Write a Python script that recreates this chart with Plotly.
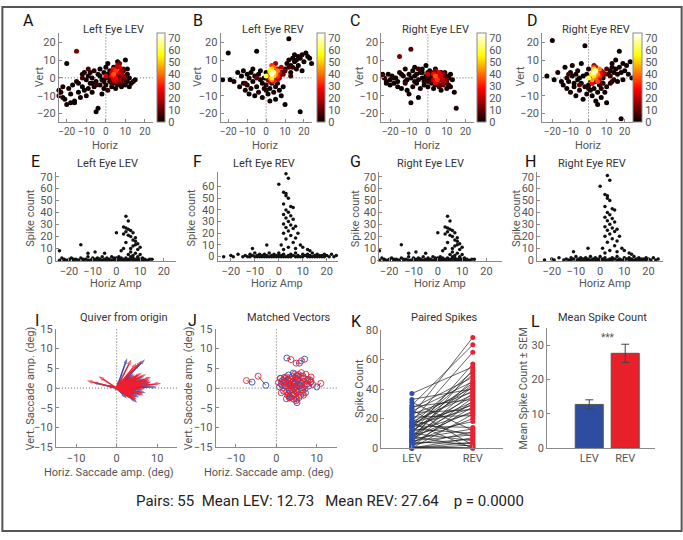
import numpy as np
import plotly.graph_objects as go

W, H = 683, 540
FONT = "Roboto"
AX = "#8a8a8a"
TK = "#555555"
TT = "#333333"

# ---------------- data: LEV trials (both eyes share spike counts) -------------
lev_h = [4,5,3,4,5,6,4,7,3,0, 5,6,8,7,8,4,9,8,7,10, 6,3,9,2,6,8,5,10,7,9,
         -15,-24,-9,-5,-12,
         -23,-22,-21,-20,-20,-19,-18,-17,-16,-15,
         -14,-13,-12,-12,-11,-10,-10,-9,-9,-8,
         -8,-7,-7,-6,-6,-5,-5,-4,-4,-3,
         -3,-2,-2,-1,-1,0,0,0,1,1,
         1,2,2,3,3,4,4,5,5,6,
         6,7,7,8,8,9,10,10,11,11,
         12,12,13,14,-16,-18,-22,-14,-11,-7,
         -3,-1,2,9,11,-24,15]
lev_v_left = [2,4,1,5,0,3,-1,6,3,1, -2,7,2,-1,4,3,1,-2,8,0, 2,-3,5,0,1,3,5,1,-3,4,
              15,-10,5,-4,0,
              -8,-5,-12,-15,8,-6,-9,-4,-13,-2,
              -8,-11,-5,2,-7,-1,-10,1,-6,-3,
              3,-8,0,-5,4,-19,-2,-17,2,-4,
              5,-1,-9,3,-6,0,6,-4,2,-7,
              8,-2,4,-5,0,-3,6,-6,1,-4,
              9,-2,2,-5,0,-3,10,-4,2,-2,
              0,-5,-3,-2,-14,-14,-11,-3,3,-3,
              1,-2,1,-1,5,-7,-1]
lev_v_right = [1,-1,2,-2,0,3,-3,1,-1,2, -2,2,-1,0,-3,4,-2,2,1,-1, -4,3,0,-2,1,-4,2,-3,-1,3,
               12,1,16,5,-3,
               0,-2,2,-1,-4,1,-3,0,-5,3,
               -6,1,-2,5,-7,2,-9,0,-14,4,
               -5,1,6,-3,2,-11,-1,3,-6,5,
               0,-2,-4,1,7,-2,3,-5,0,4,
               -1,-3,2,-6,1,-4,5,-2,2,-5,
               0,-7,3,-1,-3,1,-2,-6,0,-4,
               2,-5,-1,-8,-2,0,-3,2,-1,-2,
               3,0,-1,-2,1,2,-17]
lev_spk = [37,33,28,27,26,25,24,23,22,23, 21,20,19,17,16,15,14,13,12,11, 10,10,9,8,7,6,5,5,4,3,
           13,8,7,6,6,
           2,1,0,1,0,2,0,1,0,2,
           0,1,0,3,0,1,2,0,1,0,
           2,0,1,0,3,0,1,0,2,1,
           0,3,0,1,0,2,0,1,0,3,
           1,0,2,0,1,2,0,1,0,3,
           1,0,2,0,1,2,0,1,0,2,
           1,0,0,1,0,1,0,1,0,1,
           0,2,1,0,1,0,1]

# ---------------- data: REV trials -------------
rev_h = [3,4,0,2,3,3,4,2,5,6, 3,4,2,5,3,6,4,2,5,7, 3,6,4,8,2,5,7,3,6,9, 1,4,2,-5,-11,7,10,12,13,
         -20,-19,-17,-15,-14,-13,-12,-12,-11,-10,
         -10,-9,-9,-8,-8,-7,-7,-6,-6,-5,
         -5,-4,-4,-3,-3,-2,-2,-1,-1,0,
         0,1,1,2,2,3,4,4,5,5,
         6,7,7,8,8,9,10,10,11,12,
         12,13,13,14,14,15,15,16,16,17,
         17,18,18,19,19,20,21,22,23,24,
         -23,0]
rev_v_left = [2,3,1,4,0,5,1,3,2,4, -1,6,0,3,7,1,-2,2,5,3, 4,-1,2,6,-2,8,0,3,5,2, -1,4,1,0,-3,2,4,6,1,
              14,-1,-2,3,-5,1,-3,4,-7,2,
              -4,-9,0,3,-6,-2,5,-10,1,15,
              -5,2,-8,-1,4,-3,-11,0,-6,3,
              -4,-9,2,-6,-13,-3,-8,0,-5,-12,
              -3,-7,1,-10,3,-5,5,-15,8,22,
              10,7,3,11,6,9,13,5,10,12,
              7,-19,11,13,4,9,14,12,11,8,
              -1,-7]
rev_v_right = [3,4,0,2,5,1,3,-1,2,5, 4,0,2,-2,6,1,3,-3,4,2, 5,-1,6,3,1,-2,4,7,0,2, -1,3,1,-4,2,-3,5,1,-2,
               21,-1,3,-2,-4,6,0,-6,-2,3,
               -8,1,7,-3,-5,2,-10,-1,4,0,
               -7,8,-3,1,-12,18,-5,2,-9,-4,
               5,-7,-1,-10,-3,-6,-13,-2,-8,-15,
               -4,-11,-6,-3,0,-8,-5,-14,2,4,
               -3,6,8,3,-1,5,10,2,-2,6,
               15,-23,3,8,-1,4,7,2,9,0,
               1,-6]
rev_spk = [71,67,62,55,54,52,50,45,43,42, 40,38,36,35,33,32,30,28,27,26, 25,24,22,20,20,18,16,15,12,10, 10,8,6,10,7,7,8,6,5,
           1,0,2,0,1,0,2,0,1,0,
           3,0,1,0,2,0,1,0,2,0,
           1,0,3,0,1,0,2,0,1,0,
           3,0,1,0,2,0,1,0,2,0,
           1,0,3,0,1,0,2,0,1,0,
           2,0,1,0,3,1,0,2,0,1,
           0,1,0,2,0,1,0,2,0,1,
           0,1]

# ---------------- matched saccade vectors (55 pairs) -------------
vec_lev_h = [-6.0,-2.6,2.6,5.7,7.0,10.0,8.6,5.1,1.0,2.0, 3.0,4.2,5.5,6.8,7.5,6.5,5.0,4.0,3.0,2.5,
             1.2,2.3,3.3,4.4,5.3,6.2,3.8,4.9,2.8,3.6, 4.7,6.0,5.6,1.8,0.8,8.0,7.2,4.5,3.5,2.2,
             5.8,4.0,6.6,3.2,4.8,5.4,3.9,2.9,4.3,6.4, 7.8,1.5,5.2,4.6,3.4]
vec_lev_v = [1.5,0.7,7.6,6.3,7.3,0.3,1.6,-3.7,2.5,2.7, 3.3,3.8,3.4,2.4,1.0,-0.5,-1.0,-2.0,-1.5,-2.7,
             1.0,0.5,1.2,0.8,1.9,1.2,-0.3,0.2,1.9,2.3, 2.6,-1.8,-2.4,-0.8,0.3,0.5,-1.2,-1.5,0.6,1.6,
             0.6,1.5,3.0,-0.8,-0.6,0.9,2.9,0.1,-2.8,0.1, 2.2,1.9,2.3,1.1,-2.2]
vec_rev_h = [-7.4,-4.5,3.6,4.9,6.2,11.0,8.3,4.9,0.5,2.8, 2.5,5.0,6.2,7.6,8.4,7.1,4.4,3.2,2.6,3.3,
             1.8,1.8,4.0,5.0,4.6,6.9,4.3,5.6,2.2,4.2, 5.3,6.6,5.0,1.2,1.4,9.0,6.7,5.2,3.0,2.8,
             6.3,3.4,7.3,3.8,4.2,6.0,4.5,3.3,4.9,7.0, 8.6,1.0,5.9,4.0,2.8]
vec_rev_v = [1.9,3.0,7.2,6.3,6.9,1.2,2.1,-3.2,1.4,2.2, 2.8,3.2,3.9,2.0,1.5,-0.2,-1.6,-2.4,-0.9,-2.5,
             1.5,0.1,1.6,0.3,2.4,1.7,0.3,-0.3,2.4,1.8, 3.1,-1.3,-2.8,-1.2,0.8,0.9,-1.8,-1.1,1.1,2.1,
             1.2,1.0,3.5,-1.3,-0.1,1.4,3.5,0.6,-2.3,0.6, 2.8,2.4,2.7,0.5,-1.8]

# ---------------- paired spike counts (55 pairs) -------------
pair_lev = [37,33,31,29,28,27,26,25,24,23, 22,21,20,19,18,17,16,15,15,14,
            18,17,16,15,14,13,12,11,11,10, 10,9,9,8,8,7,7,6,6,5,
            5,5,4,4,3,3,2,1,1,0, 0,0,0,0,0]
pair_rev = [55,40,12,70,33,48,2,45,26,38, 75,22,41,8,36,29,52,14,44,31,
            65,0,39,27,50,10,35,24,43,5, 57,30,18,46,1,37,25,53,13,42,
            9,34,20,3,28,6,11,32,0,23, 4,2,0,7,0]
cond_labels = ["LEV", "REV"]
sem_vals = [1.35, 2.65]
p_text = "0.0000"

# ---------------- helpers -------------
def xd(a, b):
    return [a / W, b / W]

def yd(top, bot):
    return [1 - bot / H, 1 - top / H]

def ann(px, py, s, size=11, color=TT, angle=0, xa="center", ya="middle"):
    return dict(x=px / W, y=1 - py / H, xref="paper", yref="paper", text=s, showarrow=False,
                font=dict(family=FONT, size=size, color=color), textangle=angle,
                xanchor=xa, yanchor=ya)

def axstyle(dom, rng, tickvals, anchor, ticktext=None, fs=11):
    d = dict(domain=dom, range=rng, tickvals=tickvals, anchor=anchor, showline=True,
             linecolor=AX, linewidth=1, ticks="inside", ticklen=3, tickcolor=AX, tickangle=0,
             tickfont=dict(family=FONT, size=fs, color=TK), showgrid=False, zeroline=False)
    if ticktext is not None:
        d["ticktext"] = ticktext
    return d

HOT = [[0, "rgb(10,0,0)"], [0.375, "rgb(255,0,0)"], [0.75, "rgb(255,255,0)"], [1, "rgb(255,255,255)"]]

fig = go.Figure()
layout = {}
shapes = []
annotations = []

def dotted(ax, x0, y0, x1, y1):
    shapes.append(dict(type="line", xref=f"x{ax}", yref=f"y{ax}", x0=x0, y0=y0, x1=x1, y1=y1,
                       line=dict(color="#666", width=1, dash="1px,2px"), layer="below"))

# ---------------- top row: A-D -------------
top = [
    (1, lev_h, lev_v_left, lev_spk, (58, 152), [-24, 24], (156, 164), "Left Eye LEV", "A", 28, 113, 38, 105),
    (2, rev_h, rev_v_left, rev_spk, (220, 311), [-24, 24], (316, 324), "Left Eye REV", "B", 197, 272, 197, 265),
    (3, lev_h, lev_v_right, lev_spk, (381, 474), [-24.6, 24.6], (477, 486), "Right Eye LEV", "C", 355, 435, 359, 427),
    (4, rev_h, rev_v_right, rev_spk, (542, 633), [-25.6, 24.6], (633, 642), "Right Eye REV", "D", 532, 596, 520, 588),
]
ytop, ybot = 28, 119.3
for (i, hx, vy, sp, (a, b), xr, (c0, c1), title, letter, lx, tx, vx, hx_lab) in top:
    order = np.argsort(np.array(sp), kind="stable")
    xs = np.array(hx)[order]
    ys = np.array(vy)[order]
    cs = np.array(sp)[order]
    fig.add_trace(go.Scatter(
        x=xs, y=ys, mode="markers", xaxis=f"x{i}", yaxis=f"y{i}", cliponaxis=False,
        marker=dict(size=5, color=cs, colorscale=HOT, cmin=0, cmax=74, showscale=True,
                    colorbar=dict(x=c0 / W, xanchor="left", y=1 - ybot / H, yanchor="bottom",
                                  len=(ybot - ytop) / H, lenmode="fraction", thickness=c1 - c0,
                                  thicknessmode="pixels", xpad=0, ypad=0, outlinewidth=1,
                                  outlinecolor=AX, tickvals=[0, 10, 20, 30, 40, 50, 60, 70],
                                  ticks="", tickfont=dict(family=FONT, size=11, color=TK)))))
    layout[f"xaxis{i}"] = axstyle(xd(a, b), xr, [-20, -10, 0, 10, 20], f"y{i}", fs=10)
    layout[f"yaxis{i}"] = axstyle(yd(ytop, ybot), [-25, 25], [-20, -10, 0, 10, 20], f"x{i}")
    dotted(i, 0, -25, 0, 25)
    dotted(i, xr[0], 0, xr[1], 0)
    annotations.append(ann(tx, 24, title, 11, TT))
    annotations.append(ann(lx, 15, letter, 16, "#111"))
    annotations.append(ann(vx, 72, "Vert", 11, TK, angle=-90))
    annotations.append(ann(hx_lab, 143, "Horiz", 11, TK))

# ---------------- middle row: E-H -------------
mid = [
    (5, lev_h, lev_spk, (55, 175), [-25.5, 25], [-0.3, 74], [0, 10, 20, 30, 40, 50, 60, 70], "Left Eye LEV", "E", 35, 107, 30, 115),
    (6, rev_h, rev_spk, (217, 337), [-25.5, 24.5], [-3.5, 72.5], [0, 10, 20, 30, 40, 50, 60], "Left Eye REV", "F", 197, 263, 191, 276),
    (7, lev_h, lev_spk, (379, 502), [-24, 26.5], [-0.3, 74], [0, 10, 20, 30, 40, 50, 60, 70], "Right Eye LEV", "G", 355, 430, 355, 440),
    (8, rev_h, rev_spk, (537, 663), [-26, 26], [-0.5, 74], [0, 10, 20, 30, 40, 50, 60, 70], "Right Eye REV", "H", 530, 592, 517, 605),
]
for (i, hx, sp, (a, b), xr, yr, yt, title, letter, lx, tx, sx, hx_lab) in mid:
    fig.add_trace(go.Scatter(x=hx, y=sp, mode="markers", xaxis=f"x{i}", yaxis=f"y{i}",
                             cliponaxis=False, marker=dict(size=3.5, color="#111")))
    layout[f"xaxis{i}"] = axstyle(xd(a, b), xr, [-20, -10, 0, 10, 20], f"y{i}")
    layout[f"yaxis{i}"] = axstyle(yd(170, 261), yr, yt, f"x{i}")
    annotations.append(ann(tx, 161, title, 11, TT))
    annotations.append(ann(lx, 159, letter, 16, "#111"))
    annotations.append(ann(sx, 217, "Spike count", 11, TK, angle=-90))
    annotations.append(ann(hx_lab, 284, "Horiz Amp", 11, TK))

# ---------------- bottom row: I quiver -------------
BLUE = "#2f4fb0"
RED = "#ee2030"
for hs, vs, col in [(vec_lev_h, vec_lev_v, BLUE), (vec_rev_h, vec_rev_v, RED)]:
    xs, ys, sz = [], [], []
    for hh, vv in zip(hs, vs):
        xs += [0, hh, None]
        ys += [0, vv, None]
        sz += [0, 6, 0]
    fig.add_trace(go.Scatter(x=xs, y=ys, mode="lines+markers", xaxis="x9", yaxis="y9",
                             line=dict(color=col, width=1.5),
                             marker=dict(symbol="arrow", angleref="previous", size=sz, color=col,
                                         line=dict(width=0))))
ybl_top, ybl_bot = 330.7, 452.3
layout["xaxis9"] = axstyle(xd(55, 176.7), [-15, 15], [-10, 0, 10], "y9")
layout["yaxis9"] = axstyle(yd(ybl_top, ybl_bot), [-15, 15], [-15, -10, -5, 0, 5, 10, 15], "x9")
dotted(9, 0, -15, 0, 15)
dotted(9, -15, 0, 15, 0)

# ---------------- J matched vectors -------------
lx_, ly_ = [], []
for a1, b1, a2, b2 in zip(vec_lev_h, vec_lev_v, vec_rev_h, vec_rev_v):
    lx_ += [a1, a2, None]
    ly_ += [b1, b2, None]
fig.add_trace(go.Scatter(x=lx_, y=ly_, mode="lines", xaxis="x10", yaxis="y10",
                         line=dict(color="#222", width=0.7)))
fig.add_trace(go.Scatter(x=vec_lev_h, y=vec_lev_v, mode="markers", xaxis="x10", yaxis="y10",
                         marker=dict(symbol="circle-open", size=6, color=BLUE, line=dict(width=0.9))))
fig.add_trace(go.Scatter(x=vec_rev_h, y=vec_rev_v, mode="markers", xaxis="x10", yaxis="y10",
                         marker=dict(symbol="circle-open", size=6, color=RED, line=dict(width=0.9))))
layout["xaxis10"] = axstyle(xd(215, 336.5), [-15, 15], [-10, 0, 10], "y10")
layout["yaxis10"] = axstyle(yd(ybl_top, ybl_bot), [-15, 15], [-15, -10, -5, 0, 5, 10, 15], "x10")
dotted(10, 0, -15, 0, 15)
dotted(10, -15, 0, 15, 0)

# ---------------- K paired spikes -------------
kx, ky = [], []
for l, r in zip(pair_lev, pair_rev):
    kx += [1, 2, None]
    ky += [l, r, None]
fig.add_trace(go.Scatter(x=kx, y=ky, mode="lines", xaxis="x11", yaxis="y11",
                         line=dict(color="#222", width=0.7)))
fig.add_trace(go.Scatter(x=[1] * len(pair_lev), y=pair_lev, mode="markers", xaxis="x11", yaxis="y11",
                         cliponaxis=False, marker=dict(size=5, color=BLUE)))
fig.add_trace(go.Scatter(x=[2] * len(pair_rev), y=pair_rev, mode="markers", xaxis="x11", yaxis="y11",
                         cliponaxis=False, marker=dict(size=5, color=RED)))
layout["xaxis11"] = axstyle(xd(381, 503), [0.5, 2.5], [1, 2], "y11", cond_labels)
layout["yaxis11"] = axstyle(yd(332, 453), [0, 80], [0, 20, 40, 60, 80], "x11")

# ---------------- L mean bars -------------
mean_lev = float(np.mean(pair_lev))
mean_rev = float(np.mean(pair_rev))
fig.add_trace(go.Bar(x=[1, 2], y=[mean_lev, mean_rev], xaxis="x12", yaxis="y12", width=0.78,
                     marker=dict(color=["#2e4da0", "#e8202a"], line=dict(color="#555", width=1)),
                     error_y=dict(type="data", array=sem_vals, color="#444", thickness=1, width=4)))
layout["xaxis12"] = axstyle(xd(547, 655), [-0.17, 2.83], [1, 2], "y12", cond_labels)
layout["xaxis12"]["ticks"] = ""
layout["yaxis12"] = axstyle(yd(330, 453), [0, 35], [0, 10, 20, 30], "x12")

# bottom-row labels
annotations += [
    ann(123, 319, "Quiver from origin", 11, TT),
    ann(288, 319, "Matched Vectors", 11, TT),
    ann(444, 319, "Paired Spikes", 11, TT),
    ann(602, 319, "Mean Spike Count", 11, TT),
    ann(36, 322, "I", 16, "#111"),
    ann(192, 322, "J", 16, "#111"),
    ann(356, 323, "K", 16, "#111"),
    ann(535, 323, "L", 16, "#111"),
    ann(30, 392, "Vert. Saccade amp. (deg)", 11, TK, angle=-90),
    ann(188, 392, "Vert. Saccade amp. (deg)", 11, TK, angle=-90),
    ann(108, 478, "Horiz. Saccade amp. (deg)", 11, TK),
    ann(268, 478, "Horiz. Saccade amp. (deg)", 11, TK),
    ann(359, 392, "Spike Count", 11, TK, angle=-90),
    ann(523, 392, "Mean Spike Count \u00b1 SEM", 11, TK, angle=-90),
    ann(608, 340, "***", 10, TK),
]
nb = "\u00a0"
stats = (f"Pairs: {len(pair_lev)}{nb}{nb}Mean LEV: {mean_lev:.2f}{nb}{nb}{nb}"
         f"Mean REV: {mean_rev:.2f}{nb}{nb}{nb}{nb}p = {p_text}")
annotations.append(ann(329, 507, stats, 15, "#222"))

# frame
shapes.append(dict(type="rect", xref="paper", yref="paper", x0=0.002, y0=0.004, x1=0.998, y1=0.998,
                   line=dict(color="#555", width=2), fillcolor="rgba(0,0,0,0)"))

fig.update_layout(width=W, height=H, autosize=False, margin=dict(l=0, r=0, t=0, b=0, pad=0),
                  paper_bgcolor="white", plot_bgcolor="white", showlegend=False,
                  font=dict(family=FONT, size=11, color=TK),
                  shapes=shapes, annotations=annotations, **layout)
fig.write_html("out.html")
